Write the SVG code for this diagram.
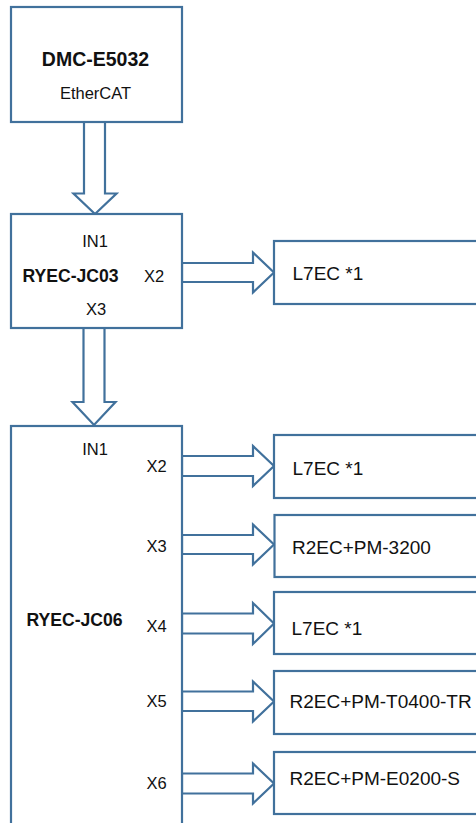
<svg xmlns="http://www.w3.org/2000/svg" width="476" height="823" viewBox="0 0 476 823">
<style>
.box{fill:#fff;stroke:#41719C;stroke-width:2.2}
.arr{fill:#fff;stroke:#41719C;stroke-width:2.2;stroke-linejoin:miter}
text{font-family:"Liberation Sans",Arial,sans-serif;fill:#111}
.lbl{font-size:16.5px}
.name{font-size:17.6px;font-weight:bold}
.big{font-size:19.5px;font-weight:bold}
.dev{font-size:19px}
.mid{text-anchor:middle}
</style>
<rect width="476" height="823" fill="#fff"/>
<g id="connectors">
<polygon class="arr" points="84,122 105,122 105,193.5 116.5,193.5 95,214 73.5,193.5 84,193.5"/>
<polygon class="arr" points="83.5,328 104.5,328 104.5,402 115.5,402 94,425 72.5,402 83.5,402"/>
<polygon class="arr" points="182,263 253,263 253,252.5 274,272.5 253,292.5 253,282 182,282"/>
<polygon class="arr" points="182,456 253,456 253,446 274,466 253,486 253,476 182,476"/>
<polygon class="arr" points="182,535 253,535 253,524.5 274,544.5 253,564.5 253,554 182,554"/>
<polygon class="arr" points="182,613.5 253,613.5 253,603 274,623.5 253,644 253,633.5 182,633.5"/>
<polygon class="arr" points="182,691.5 253,691.5 253,681.5 274,701.5 253,721.5 253,711 182,711"/>
<polygon class="arr" points="182,773.5 253,773.5 253,763.5 274,783.5 253,803.5 253,793.5 182,793.5"/>
</g>
<g id="dmc">
<rect class="box" x="11" y="7" width="171" height="115"/>
<text class="big mid" x="95.5" y="66">DMC-E5032</text>
<text class="lbl mid" x="95.5" y="99">EtherCAT</text>
</g>
<g id="jc03">
<rect class="box" x="11" y="214" width="171" height="114"/>
<text class="lbl mid" x="95" y="247">IN1</text>
<text class="name" x="22.5" y="282">RYEC-JC03</text>
<text class="lbl" x="144" y="282">X2</text>
<text class="lbl mid" x="96" y="315">X3</text>
</g>
<g id="jc06">
<rect class="box" x="11" y="426" width="171" height="420"/>
<text class="lbl mid" x="95" y="455">IN1</text>
<text class="name" x="26.5" y="626">RYEC-JC06</text>
<text class="lbl" x="146.5" y="472">X2</text>
<text class="lbl" x="146.5" y="552">X3</text>
<text class="lbl" x="146.5" y="632">X4</text>
<text class="lbl" x="146.5" y="707">X5</text>
<text class="lbl" x="146.5" y="788.5">X6</text>
</g>
<g id="dev1">
<rect class="box" x="274" y="241" width="260" height="63"/>
<text class="dev" x="292.5" y="280">L7EC *1</text>
</g>
<g id="dev2">
<rect class="box" x="274" y="435" width="260" height="63"/>
<text class="dev" x="292.5" y="475">L7EC *1</text>
</g>
<g id="dev3">
<rect class="box" x="274.5" y="515" width="260" height="62"/>
<text class="dev" x="292" y="553.5">R2EC+PM-3200</text>
</g>
<g id="dev4">
<rect class="box" x="274" y="592" width="260" height="62"/>
<text class="dev" x="291.5" y="634.5">L7EC *1</text>
</g>
<g id="dev5">
<rect class="box" x="274" y="671" width="260" height="63"/>
<text class="dev" x="289.5" y="707.5">R2EC+PM-T0400-TR</text>
</g>
<g id="dev6">
<rect class="box" x="274" y="752" width="260" height="62"/>
<text class="dev" x="289.5" y="785">R2EC+PM-E0200-S</text>
</g>
</svg>
